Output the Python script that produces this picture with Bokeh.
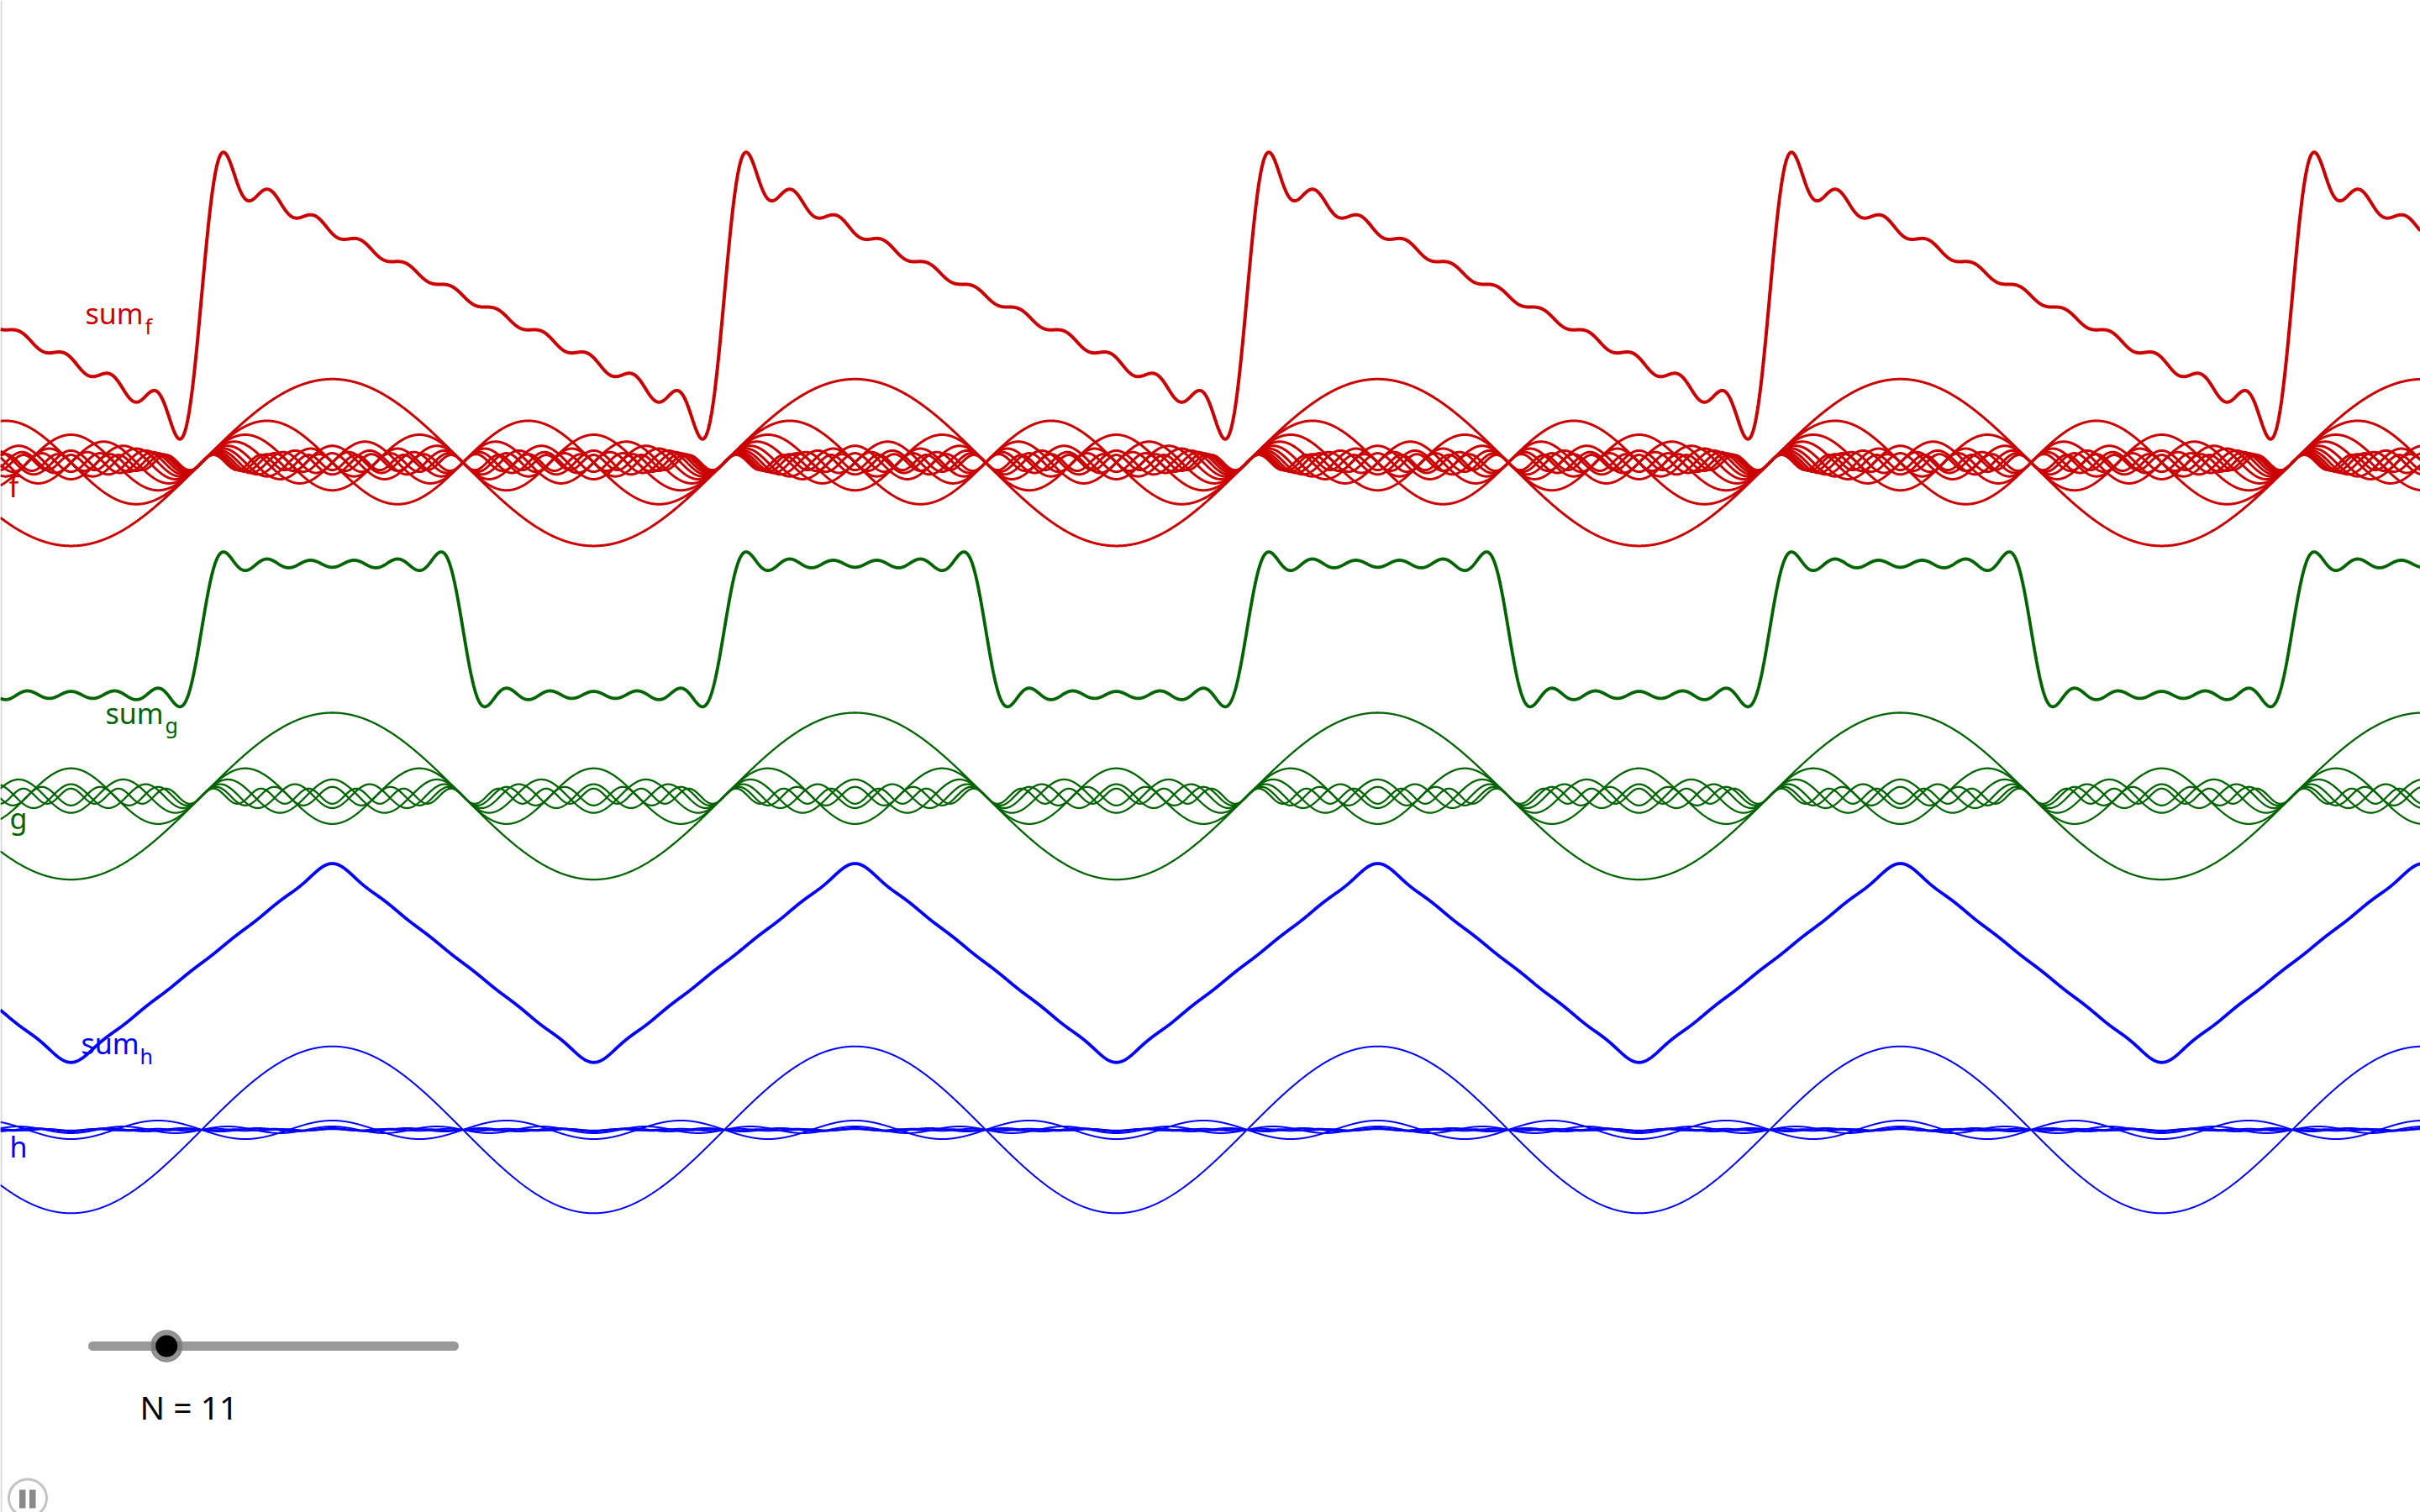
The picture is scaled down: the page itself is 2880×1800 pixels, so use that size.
import numpy as np
from bokeh.plotting import figure
from bokeh.models import Label, Range1d
from bokeh.embed import file_html
from bokeh.resources import INLINE

# ---------------- data ----------------
N_value = 11
slider_min = 1
slider_max = 50

f_harmonics = [1, 2, 3, 4, 5, 6, 7, 8, 9, 10, 11]
f_amplitudes = [1.0, 0.5, 0.3333, 0.25, 0.2, 0.1667, 0.1429, 0.125, 0.1111, 0.1, 0.0909]
g_harmonics = [1, 3, 5, 7, 9, 11]
g_amplitudes = [1.0, 0.3333, 0.2, 0.1429, 0.1111, 0.0909]
h_harmonics = [1, 3, 5, 7, 9, 11]
h_amplitudes = [1.0, -0.1111, 0.04, -0.0204, 0.0123, -0.0083]

series_names = ["f", "g", "h"]
term_baselines = [8.0, 4.0, 0.0]
sum_shift = 2.0

# ---------------- page geometry ----------------
W, H = 2880, 1800
SX, SY = 99.0, 99.3
T0_PX = 239.5
AXIS0_PY = 1344.5

x_start = -T0_PX / SX
x_end = x_start + W / SX
y_top = AXIS0_PY / SY
y_bottom = y_top - H / SY


def px2x(px):
    return x_start + px / SX


def py2y(py):
    return y_top - py / SY


p = figure(width=W, height=H, x_range=Range1d(x_start, x_end),
           y_range=Range1d(y_bottom, y_top), output_backend="svg",
           toolbar_location=None, min_border=0,
           x_axis_location=None, y_axis_location=None)
p.grid.visible = False
p.outline_line_color = None
p.background_fill_color = "white"
p.border_fill_color = "white"

# thin left border line like the applet frame
p.segment(x0=[px2x(1)], y0=[py2y(0)], x1=[px2x(1)], y1=[py2y(1800)],
          line_color="#d8d8d8", line_width=2)

t = np.linspace(x_start, x_end, 7000)

styles = {
    "f": dict(color="#cc0000", term_w=3.0, sum_w=4.0),
    "g": dict(color="#006400", term_w=2.3, sum_w=3.8),
    "h": dict(color="#0000ff", term_w=2.0, sum_w=3.8),
}
data = {
    "f": (f_harmonics, f_amplitudes),
    "g": (g_harmonics, g_amplitudes),
    "h": (h_harmonics, h_amplitudes),
}

for name, base in zip(series_names, term_baselines):
    ks, amps = data[name]
    st = styles[name]
    total = np.zeros_like(t)
    for k, a in zip(ks, amps):
        term = a * np.sin(k * t)
        total += term
        p.line(t, base + term, line_color=st["color"], line_width=st["term_w"])
    p.line(t, base + sum_shift + total, line_color=st["color"], line_width=st["sum_w"])

FONT = "Noto Sans"
TEXT_DY = -12


def add_text(txt, px, py, size, color):
    p.add_layout(Label(x=px2x(px), y=py2y(py + TEXT_DY), text=txt, text_font=FONT,
                       text_font_size=f"{size}px", text_color=color,
                       text_baseline="alphabetic", text_align="left"))


# labels
add_text("sum", 101, 384, 34, "#cc0000")
add_text("f", 172, 399, 25, "#cc0000")
add_text("f", 10, 590, 34, "#cc0000")

add_text("sum", 125, 860, 34, "#006400")
add_text("g", 196, 874, 25, "#006400")
add_text("g", 11, 985, 34, "#006400")

add_text("sum", 96, 1253, 34, "#0000ff")
add_text("h", 166, 1268, 25, "#0000ff")
add_text("h", 11, 1376, 34, "#0000ff")

# slider
sl_x0, sl_x1, sl_y = 110, 540, 1602
p.segment(x0=[px2x(sl_x0)], y0=[py2y(sl_y)], x1=[px2x(sl_x1)], y1=[py2y(sl_y)],
          line_color="#999999", line_width=11, line_cap="round")
frac = (N_value - slider_min) / (slider_max - slider_min)
knob_px = sl_x0 + frac * (sl_x1 - sl_x0)
p.scatter([px2x(knob_px)], [py2y(sl_y)], size=37, fill_color="#707070",
          fill_alpha=0.75, line_color="#888888", line_width=1.5)
p.scatter([px2x(knob_px)], [py2y(sl_y)], size=26, fill_color="black", line_color=None)

add_text(f"N = {N_value}", 166, 1686, 39, "black")

# pause button
p.scatter([px2x(32.5)], [py2y(1783)], size=45, fill_color="white",
          line_color="#c4c4c4", line_width=3)
p.quad(left=[px2x(22.5), px2x(34.5)], right=[px2x(30), px2x(42)],
       top=[py2y(1773), py2y(1773)], bottom=[py2y(1795), py2y(1795)],
       fill_color="#8a8a8a", line_color=None)

open("out.html", "w").write(file_html(p, INLINE))
